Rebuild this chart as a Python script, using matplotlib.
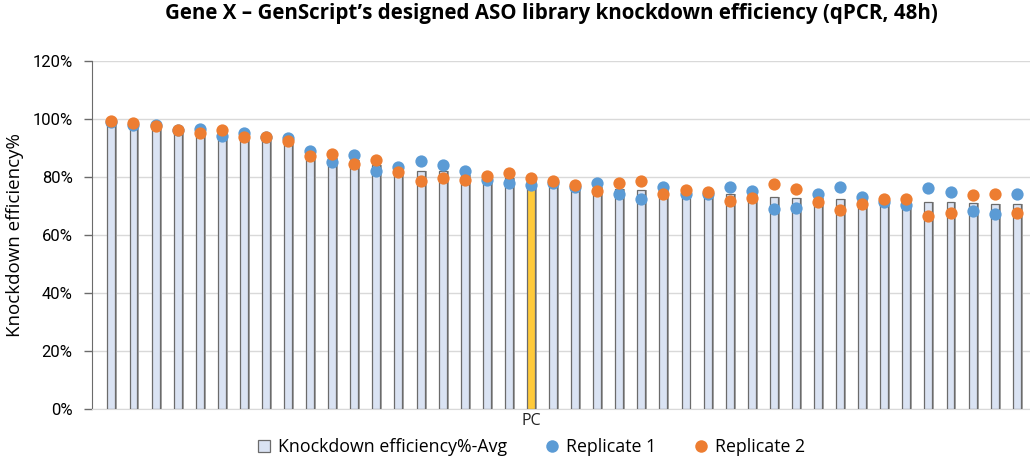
import numpy as np
import matplotlib.pyplot as plt
from matplotlib.lines import Line2D
from matplotlib.ticker import FuncFormatter

# knockdown efficiency (%), sorted by average
avg = [99.0, 98.2, 97.9, 96.3, 96.0, 95.2, 94.6, 93.6, 92.9, 88.2,
       86.5, 86.0, 84.0, 82.5, 82.1, 82.0, 80.5, 79.6, 79.5, 78.5,
       78.3, 76.9, 76.5, 76.0, 75.5, 75.4, 74.8, 74.4, 74.1, 73.9,
       73.2, 72.6, 72.7, 72.5, 72.0, 72.0, 71.4, 71.4, 71.2, 71.1,
       70.7, 70.8]
rep1 = [98.8, 97.9, 98.0, 96.3, 96.6, 94.1, 95.2, 93.6, 93.3, 89.0,
        85.2, 87.5, 82.0, 83.4, 85.5, 84.1, 82.0, 78.9, 77.8, 77.1,
        78.0, 76.6, 78.0, 74.2, 72.4, 76.6, 74.2, 74.0, 76.4, 75.2,
        68.8, 69.3, 74.0, 76.4, 73.2, 71.5, 70.2, 76.1, 74.9, 68.4,
        67.1, 74.0]
rep2 = [99.2, 98.5, 97.7, 96.3, 95.3, 96.2, 93.9, 93.6, 92.5, 87.3,
        87.8, 84.5, 86.0, 81.6, 78.6, 79.8, 79.0, 80.3, 81.2, 79.8,
        78.6, 77.1, 75.0, 77.8, 78.6, 74.2, 75.4, 74.7, 71.7, 72.6,
        77.6, 75.9, 71.4, 68.6, 70.7, 72.5, 72.5, 66.6, 67.5, 73.7,
        74.2, 67.5]
pc_index = 19
yticks = [0, 20, 40, 60, 80, 100, 120]

BAR = '#dae3f3'
PC = '#ffca3a'
BLUE = '#5b9bd5'
ORANGE = '#ed7d31'

fig = plt.figure(figsize=(10.3, 4.58), dpi=100)
ax = fig.add_axes([0.0893, 0.107, 0.9107, 0.760])

x = np.arange(len(avg))
colors = [PC if i == pc_index else BAR for i in x]

ax.bar(x + 0.09, avg, width=0.36, color='#a6a6a6', zorder=2)
ax.bar(x, avg, width=0.36, color=colors, edgecolor='#6b6b6b', linewidth=0.9, zorder=3)
ax.scatter(x, rep1, s=78, color=BLUE, zorder=4, linewidths=0)
ax.scatter(x, rep2, s=78, color=ORANGE, zorder=5, linewidths=0)

ax.set_xlim(-0.88, 41.6)
ax.set_ylim(0, 120)
ax.set_yticks(yticks)
ax.yaxis.set_major_formatter(FuncFormatter(lambda v, p: f'{v:.0f}%'))
ax.set_xticks([pc_index])
ax.set_xticklabels(['PC'], fontsize=11.5, family='Open Sans', color='#222222')
ax.tick_params(axis='x', length=0, pad=3)
ax.tick_params(axis='y', direction='out', length=6, width=1, color='#6b6b6b',
               labelsize=12, pad=8)
for lab in ax.get_yticklabels():
    lab.set_family('Roboto')
ax.grid(axis='y', color='#d9d9d9', linewidth=1, zorder=0)
ax.set_axisbelow(True)
for s in ['top', 'right']:
    ax.spines[s].set_visible(False)
ax.spines['left'].set_color('#6b6b6b')
ax.spines['bottom'].set_color('#d9d9d9')

ax.set_ylabel('Knockdown efficiency%', fontsize=13.5, family='Open Sans', labelpad=6)

fig.suptitle('Gene X \u2013 GenScript\u2019s designed ASO library knockdown efficiency (qPCR, 48h)',
             x=0.535, y=0.993, fontsize=14.8, fontweight='bold', family='Open Sans')

handles = [
    Line2D([], [], marker='s', linestyle='none', markersize=9, markerfacecolor=BAR,
           markeredgecolor='#6b6b6b', markeredgewidth=0.9),
    Line2D([], [], marker='o', linestyle='none', markersize=9, markerfacecolor=BLUE,
           markeredgewidth=0),
    Line2D([], [], marker='o', linestyle='none', markersize=9, markerfacecolor=ORANGE,
           markeredgewidth=0),
]
fig.legend(handles, ['Knockdown efficiency%-Avg', 'Replicate 1', 'Replicate 2'],
           loc='center', bbox_to_anchor=(530 / 1030, 1 - 447 / 458), ncol=3,
           frameon=False, prop={'family': 'Open Sans', 'size': 12.8},
           handletextpad=0.3, columnspacing=2.0, handlelength=1.0)

fig.savefig('out.png', dpi=100)
